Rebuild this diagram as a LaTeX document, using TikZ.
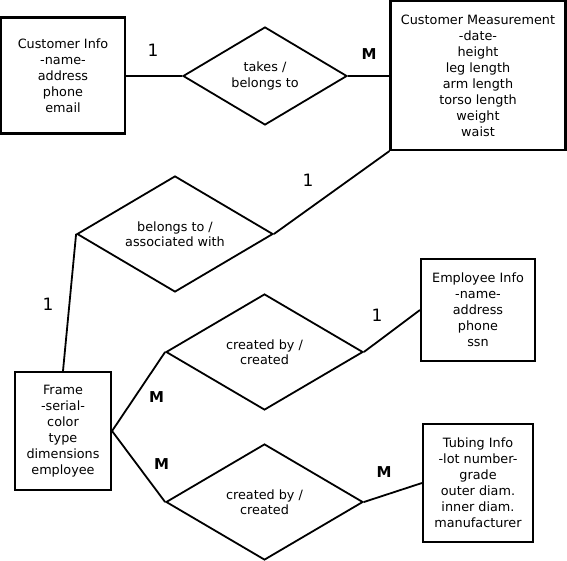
\documentclass[tikz,border=0pt]{standalone}
\usepackage{fontspec}
\setmainfont{DejaVu Sans}
\usetikzlibrary{shapes.geometric}
\begin{document}
\begin{tikzpicture}[x=1pt,y=-1pt,
  entity/.style={draw,line width=2.1pt,rectangle,inner sep=0pt,align=center,
    font=\fontsize{12.8}{16}\selectfont},
  rel/.style={draw,line width=1.8pt,diamond,aspect=1.7,inner sep=0pt,align=center,
    font=\fontsize{12.8}{15.5}\selectfont},
  conn/.style={line width=1.8pt},
  one/.style={font=\fontsize{17}{18}\selectfont},
  many/.style={font=\fontsize{15}{16}\selectfont\bfseries}]
\useasboundingbox (0,0) rectangle (567,561);
\node[entity,minimum width=124pt,minimum height=116pt] (ci) at (63,75.5)
  {Customer Info\\-name-\\address\\phone\\email};
\node[entity,minimum width=175pt,minimum height=149pt] (cm) at (478,75.5)
  {Customer Measurement\\-date-\\height\\leg length\\arm length\\torso length\\weight\\waist};
\node[entity,minimum width=114pt,minimum height=102pt] (emp) at (478,310)
  {Employee Info\\-name-\\address\\phone\\ssn};
\node[entity,minimum width=96pt,minimum height=118pt] (fr) at (63,431)
  {Frame\\-serial-\\color\\type\\dimensions\\employee};
\node[entity,minimum width=110pt,minimum height=118pt] (tub) at (478,483)
  {Tubing Info\\-lot number-\\grade\\outer diam.\\inner diam.\\manufacturer};
\node[rel,minimum width=164pt,minimum height=98pt] (takes) at (265,76)
  {takes /\\belongs to};
\node[rel,minimum width=196pt,minimum height=116pt] (bel) at (175,234)
  {belongs to /\\associated with};
\node[rel,minimum width=197pt,minimum height=116pt] (cr1) at (264.5,352)
  {created by /\\created};
\node[rel,minimum width=197pt,minimum height=116pt] (cr2) at (264.5,502)
  {created by /\\created};
\draw[conn] (ci.east |- takes.west) -- (takes.west);
\draw[conn] (takes.east) -- (cm.west |- takes.east);
\draw[conn] (cm.south west) -- (bel.east);
\draw[conn] (bel.west) -- (fr.north);
\draw[conn] (fr.east) -- (cr1.west);
\draw[conn] (fr.east) -- (cr2.west);
\draw[conn] (cr1.east) -- (emp.west);
\draw[conn] (cr2.east) -- (tub.west);
\node[one] (l1) at (153,50) {1};
\node[many] (l2) at (369,54) {M};
\node[one] (l3) at (308,180) {1};
\node[one] (l4) at (48,304) {1};
\node[one] (l5) at (377,315) {1};
\node[many] (l6) at (156.5,397) {M};
\node[many] (l7) at (161.5,464) {M};
\node[many] (l8) at (384,472) {M};
\end{tikzpicture}
\end{document}
